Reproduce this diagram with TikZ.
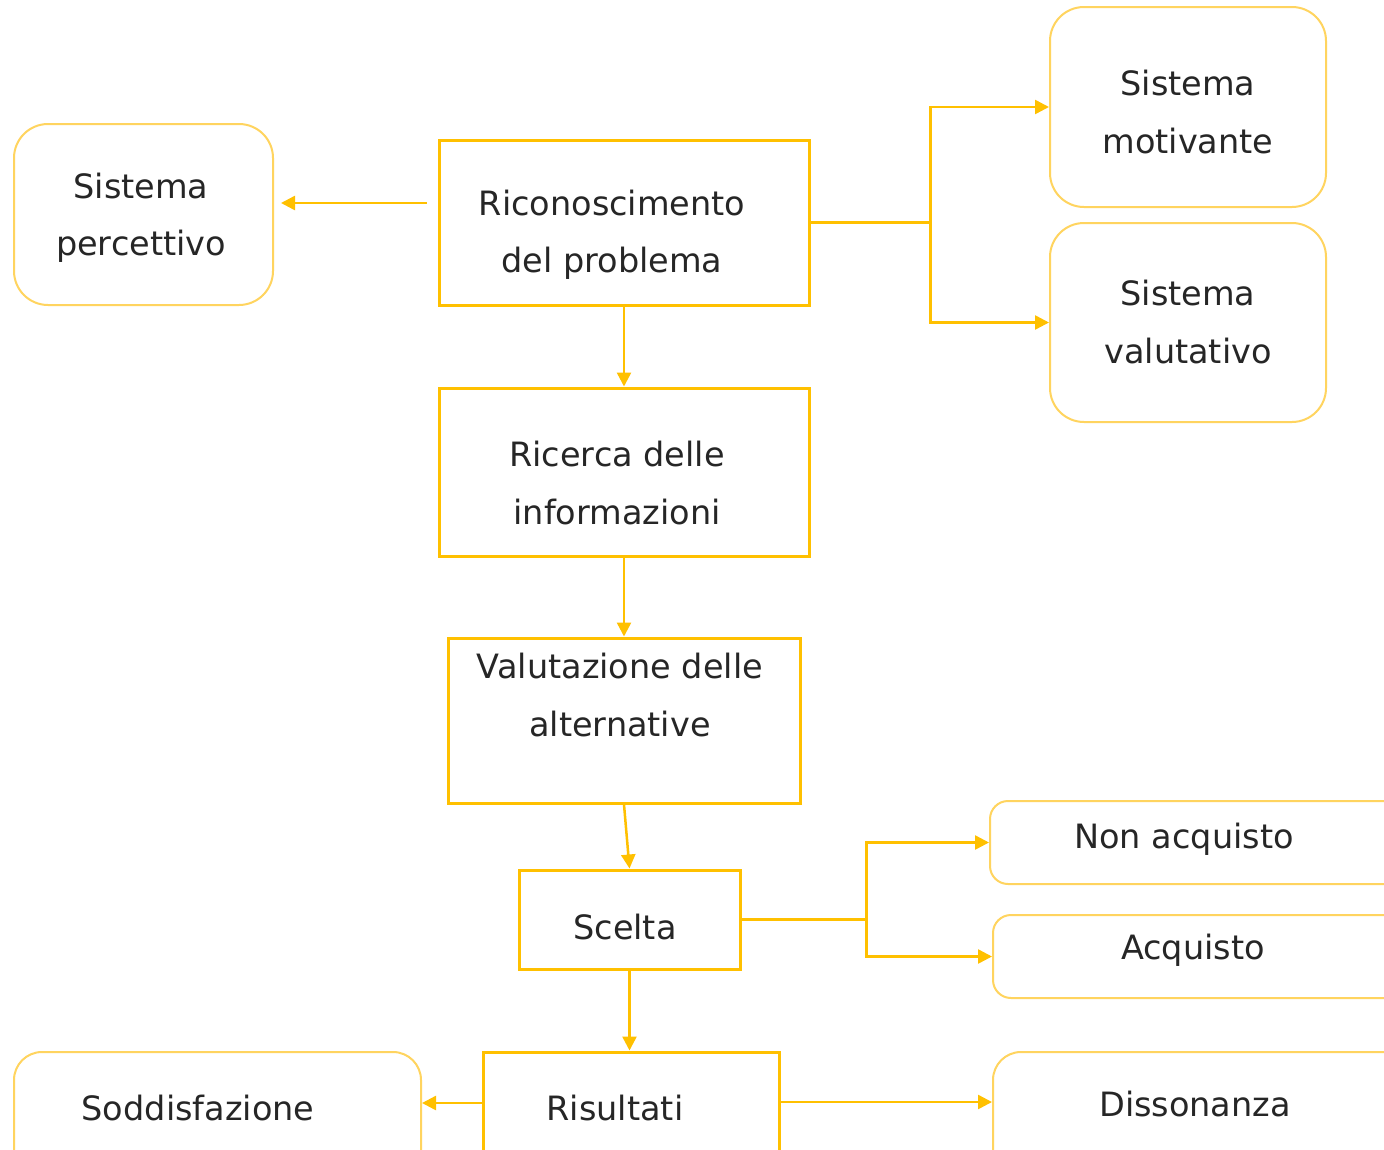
\documentclass[tikz,border=0pt]{standalone}
\usepackage{fontspec}
\setmainfont{DejaVu Sans}
\usetikzlibrary{arrows.meta}
\definecolor{gold}{RGB}{255,192,0}
\definecolor{goldlight}{RGB}{255,212,95}
\definecolor{ink}{RGB}{38,38,38}

\begin{document}
\begin{tikzpicture}[x=1pt,y=-1pt,
  stage/.style={draw=gold, line width=3pt, rectangle, inner sep=0pt},
  sysbox/.style={draw=goldlight, line width=2pt, rounded corners=34pt, inner sep=0pt},
  outbox/.style={draw=goldlight, line width=2pt, rounded corners=18pt, inner sep=0pt},
  lbl/.style={text=ink, align=center, font=\fontsize{33.5}{57.5}\selectfont, inner sep=0pt},
  link/.style={draw=gold, line width=2.5pt},
  arr/.style={link, -{Triangle[length=14pt,width=14pt]}}]

\useasboundingbox (0,0) rectangle (1384,1149);
\fill[white] (0,0) rectangle (1384,1149);
\clip (0,0) rectangle (1384,1149);

% main stages
\node[stage, minimum width=370pt, minimum height=165pt] (rp) at (624,222.5) {};
\node[stage, minimum width=370pt, minimum height=168pt] (ri) at (624,472) {};
\node[stage, minimum width=352pt, minimum height=165pt] (va) at (624,720.5) {};
\node[stage, minimum width=221pt, minimum height=99pt]  (sc) at (629.5,919.5) {};
\node[stage, minimum width=296pt, minimum height=148pt] (rs) at (631,1126) {};

% side systems and outcomes
\node[sysbox, minimum width=259pt, minimum height=181pt] (sp) at (143.5,214.5) {};
\node[sysbox, minimum width=276pt, minimum height=200pt] (sm) at (1188,107) {};
\node[sysbox, minimum width=276pt, minimum height=199pt] (sv) at (1188,322.5) {};
\node[outbox, minimum width=430pt, minimum height=83pt]  (na) at (1205,842.5) {};
\node[outbox, minimum width=427pt, minimum height=83pt]  (aq) at (1206.5,956.5) {};
\node[sysbox, rounded corners=28pt, minimum width=407pt, minimum height=148pt] (so) at (217.5,1126) {};
\node[sysbox, rounded corners=28pt, minimum width=427pt, minimum height=148pt] (di) at (1206.5,1126) {};

% labels
\node[lbl] (trp) at (612,235) {Riconoscimento\\del problema};
\node[lbl] (tri) at (617,483) {Ricerca delle\\informazioni};
\node[lbl] (tva) at (620,695) {Valutazione delle\\alternative};
\node[lbl] (tsc) at (625,927) {Scelta};
\node[lbl] (trs) at (615,1108) {Risultati};
\node[lbl] (tsp) at (141,218) {Sistema\\percettivo};
\node[lbl] (tsm) at (1188,112) {Sistema\\motivante};
\node[lbl] (tsv) at (1188,322) {Sistema\\valutativo};
\node[lbl] (tna) at (1184,839) {Non acquisto};
\node[lbl] (taq) at (1193,950) {Acquisto};
\node[lbl] (tso) at (198,1108) {Soddisfazione};
\node[lbl] (tdi) at (1195,1104) {Dissonanza};

% connectors
\draw[arr, shorten >=7pt] ([xshift=-11pt,yshift=19.5pt]rp.west) -- ([yshift=19.5pt]rp.west -| sp.east);

\draw[link] (rp.east) -- ++(120,0) coordinate (j1);
\draw[arr] (j1) |- (sm.west);
\draw[arr] (j1) |- (sv.west);

\draw[arr] (rp.south) -- (ri.north);
\draw[arr] (ri.south) -- (va.north);
\draw[arr] (va.south) -- (sc.north);

\draw[link] (sc.east) -- ++(125,0) coordinate (j2);
\draw[arr] (j2) |- (na.west);
\draw[arr] (j2) |- (aq.west);

\draw[arr] (sc.south) -- (sc.south |- rs.north);
\draw[arr] ([yshift=23pt]rs.west) -- ([yshift=23pt]rs.west -| so.east);
\draw[arr] ([yshift=24pt]rs.east) -- ([yshift=24pt]rs.east -| di.west);
\end{tikzpicture}
\end{document}
